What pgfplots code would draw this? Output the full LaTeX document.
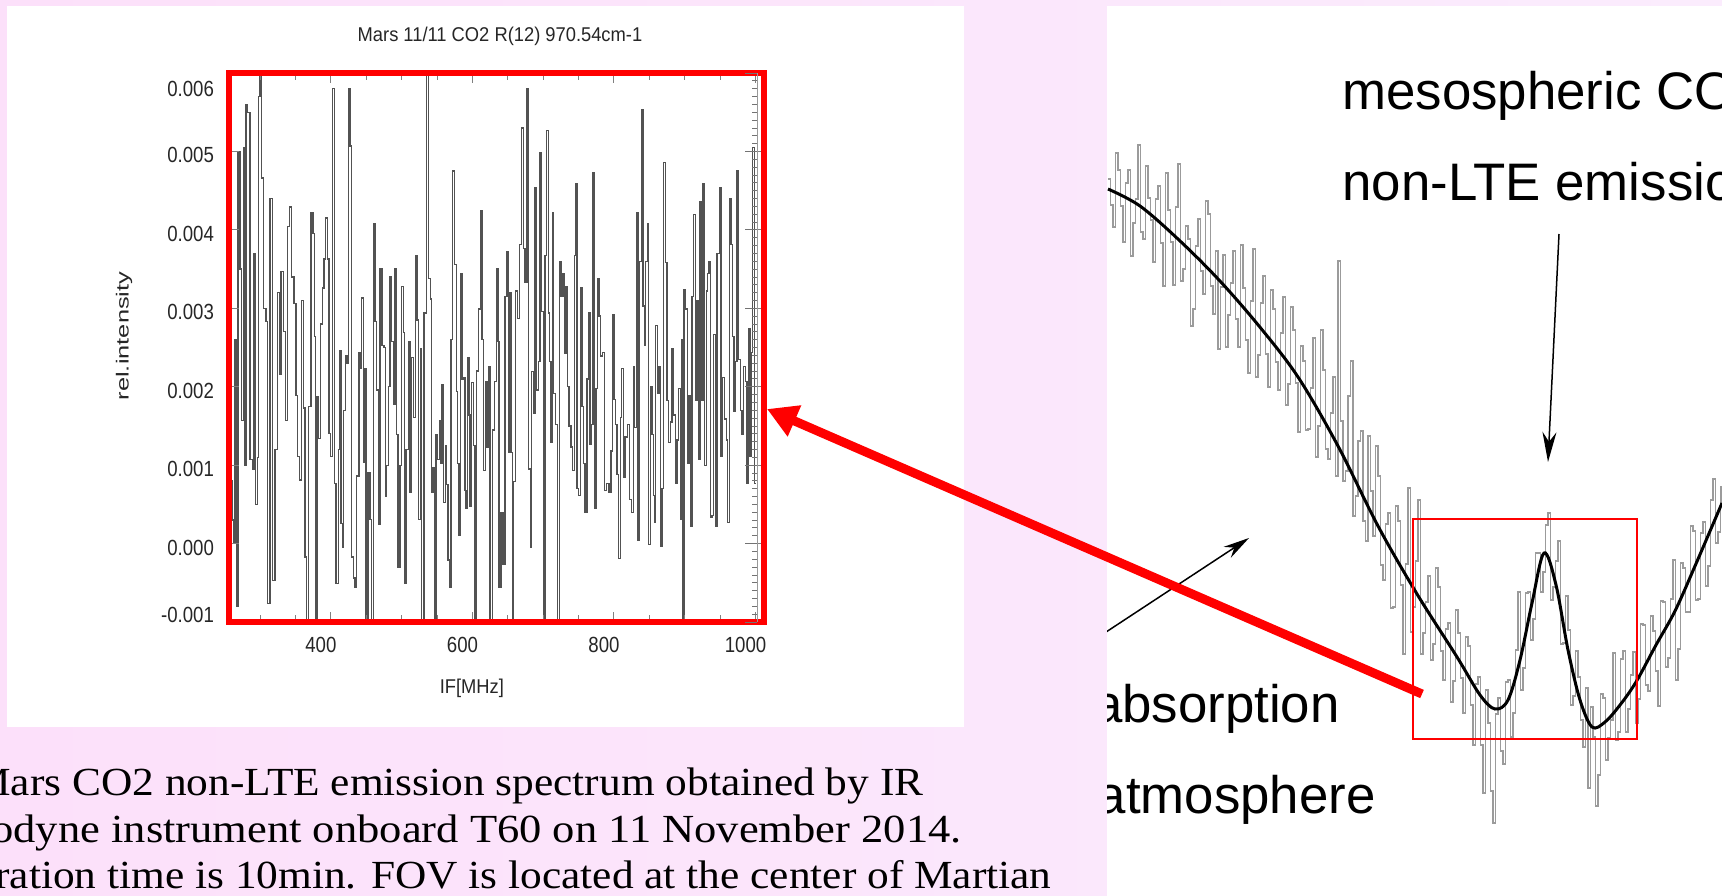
\documentclass[border=0pt]{standalone}
\usepackage{graphicx}
\usepackage{pgfplots}
\usepackage{pgfplotstable}
\pgfplotsset{compat=1.18}
\usepackage{fontspec}
\setmainfont{Liberation Sans}
\newfontfamily\capfont[FakeStretch=1.088]{Liberation Serif}
\usetikzlibrary{arrows.meta}
\definecolor{bgA}{RGB}{252,224,250}
\definecolor{bgB}{RGB}{251,236,253}
\definecolor{specgray}{RGB}{82,82,82}
\definecolor{litegray}{RGB}{155,155,155}
\newcommand{\sqz}[1]{\scalebox{0.85}[1]{#1}}

\pgfplotstableread{
x y
256 0.8
260.6 0.3
262.4 0.0
264.3 2.6
266.7 -0.8
268.6 5.0
271.4 3.5
273.8 1.57
276.1 5.05
278.5 1.0
279.9 5.6
282.2 5.5
285.5 1.07
288.8 0.95
291.2 3.7
293.5 0.5
295.9 1.1
297.3 5.7
299.7 6.2
302.0 4.66
304.8 3.0
308.1 2.83
310.5 -0.76
313.8 4.4
317.1 -0.47
320.9 1.2
324.6 3.2
327.0 2.16
329.3 3.47
332.6 2.7
335.5 1.57
338.8 4.04
341.1 4.29
344.4 3.4
347.7 3.06
350.5 1.89
352.9 1.11
355.3 0.81
358.6 3.1
361.4 1.73
363.3 -0.17
365.1 -1.1
368.0 1.75
371.7 4.22
374.6 3.95
376.5 2.64
378.3 -1.1
380.2 1.87
382.1 1.34
385.4 2.8
387.8 3.26
390.1 3.63
392.5 4.15
394.8 3.63
397.2 1.4
399.5 1.11
401.9 5.8
404.7 0.77
407.1 -0.51
410.4 1.2
412.3 2.46
414.1 0.26
416.0 -0.05
417.9 1.7
420.3 2.39
422.6 2.3
424.5 5.8
426.9 5.07
429.2 -0.17
432.0 -0.44
433.9 -0.56
436.3 0.86
439.6 2.44
441.5 2.23
443.4 3.13
445.7 1.04
447.6 2.23
449.5 -1.1
452.3 0.9
455.1 0.31
457.5 -1.1
459.8 4.08
462.2 2.83
464.6 1.96
466.9 0.24
469.3 3.51
472.1 2.53
474.9 2.5
476.8 0.6
478.7 1.0
481.5 2.0
483.4 3.4
485.8 2.58
488.1 1.77
490.5 3.51
492.8 1.39
494.7 -0.3
497.5 1.0
499.9 3.28
502.2 2.69
503.7 -0.51
506.0 1.2
509.3 2.58
511.7 0.65
514.0 2.37
516.4 1.61
519.2 3.67
521.6 2.85
523.9 0.31
526.3 2.48
528.2 -1.1
531.5 2.94
535.2 6.2
538.0 3.38
540.4 3.12
542.3 0.65
544.2 0.97
546.1 -1.1
548.4 1.39
550.8 1.07
553.1 1.57
555.0 1.02
556.9 2.03
559.2 0.52
561.6 1.25
563.5 0.75
565.4 -0.21
567.3 -0.56
569.6 2.6
572.0 4.75
574.8 3.56
577.1 1.94
579.0 1.02
580.9 0.1
582.8 3.44
585.2 2.1
587.5 2.12
589.4 0.68
590.8 0.45
593.2 2.37
595.0 1.64
596.5 0.47
598.8 2.05
601.2 1.25
603.5 -1.1
605.9 2.2
608.2 2.99
611.1 4.25
613.4 2.6
615.3 0.93
618.1 2.07
620.5 1.23
622.8 2.26
624.7 -1.1
628.5 1.45
630.9 2.07
633.7 3.51
636.0 2.58
637.5 -0.56
640.3 0.4
643.1 -0.26
645.9 3.15
648.8 3.72
650.6 1.16
652.5 3.2
654.4 1.16
656.3 -1.1
658.2 0.79
661.0 3.22
663.8 2.87
666.7 3.81
669.5 5.3
671.8 3.76
674.2 3.33
677.0 5.8
679.4 0.95
681.7 -0.05
683.6 2.19
686.0 1.66
688.3 4.54
690.7 1.96
693.0 2.32
695.4 4.98
697.8 2.96
700.1 -1.1
702.5 3.67
704.8 5.27
707.2 2.94
709.1 2.32
710.9 1.29
712.8 4.22
714.7 1.91
717.5 1.52
719.9 -1.1
722.7 3.6
725.1 3.15
727.9 3.44
729.8 2.42
732.1 3.28
734.5 2.0
736.4 1.5
739.2 1.23
741.6 0.93
743.9 3.67
745.8 4.59
747.7 0.7
749.6 0.61
752.4 3.26
754.8 1.75
757.1 1.02
759.0 0.4
761.8 2.1
764.2 2.94
766.1 1.27
768.0 1.52
770.3 4.73
772.7 0.45
774.5 1.98
776.4 3.38
778.8 2.9
781.1 2.39
784.0 2.44
786.3 0.68
789.6 0.77
792.9 0.65
795.7 1.18
797.6 2.92
800.0 1.84
802.3 1.52
804.2 0.88
806.6 -0.19
808.9 1.61
810.8 2.23
813.2 0.84
815.5 1.36
819.3 1.52
821.7 0.56
825.0 0.4
827.8 2.26
829.2 1.48
831.6 4.22
833.9 0.04
836.3 3.6
838.6 5.53
841.0 3.03
842.9 2.53
844.7 3.6
847.1 4.08
849.0 -0.01
851.8 2.0
853.7 1.39
855.6 0.61
857.0 0.27
858.9 2.78
861.2 1.91
863.6 2.26
865.9 -0.03
867.8 0.7
870.2 4.86
872.5 3.58
874.9 1.82
877.2 1.29
879.6 1.55
882.0 2.48
884.3 1.64
886.7 0.77
889.0 1.32
891.4 1.98
893.7 0.31
895.6 2.6
897.0 -1.1
898.9 3.24
901.3 2.99
903.6 1.02
906.0 1.89
908.3 0.22
910.2 3.15
912.6 4.2
914.9 1.82
917.3 3.1
919.2 1.07
921.5 4.36
923.9 1.82
925.8 4.59
928.1 1.0
930.5 3.22
932.4 3.44
934.3 3.6
936.1 0.33
938.5 0.36
940.8 2.67
943.2 0.22
945.6 3.7
948.9 4.54
951.2 1.11
953.6 2.12
956.4 1.59
958.7 1.32
960.6 0.27
963.0 4.4
965.3 3.81
967.2 2.64
969.6 1.68
971.5 2.32
973.8 4.75
976.2 2.35
978.5 1.7
980.9 1.39
983.2 2.26
985.6 2.07
988.0 0.77
989.8 2.74
992.2 1.11
994.1 2.44
996.0 5.05
998.5 0.77
1000 0.77
}\leftdata

\pgfplotstableread{
x y
1108 179
1110.5 205
1113 227
1115.5 153
1118 170
1120.5 206
1123 242
1125.5 183
1128 170
1130.5 256
1133 223
1135.5 199
1138 145
1140.5 232
1143 239
1145.5 166
1148 198
1150.5 220
1153 262
1155.5 199
1158 186
1160.5 243
1163 286
1165.5 173
1168 210
1170.5 242
1173 285
1175.5 207
1178 164
1180.5 281
1183 269
1185.5 226
1188 239
1190.5 326
1193 309
1195.5 246
1198 219
1200.5 271
1203 294
1205.5 201
1208 214
1210.5 286
1213 314
1215.5 251
1218 349
1220.5 287
1223 255
1225.5 347
1228 315
1230.5 283
1233 251
1235.5 319
1238 347
1240.5 245
1243 288
1245.5 340
1248 373
1250.5 301
1253 249
1255.5 377
1258 355
1260.5 303
1263 276
1265.5 354
1268 387
1270.5 290
1273 309
1275.5 362
1278 390
1280.5 333
1283 297
1285.5 405
1288 384
1290.5 307
1293 330
1295.5 383
1298 432
1300.5 346
1303 361
1305.5 430
1308 429
1310.5 388
1313 338
1315.5 457
1318 426
1320.5 330
1323 370
1325.5 449
1328 459
1330.5 413
1333 377
1335.5 476
1338 261
1340.5 421
1343 481
1345.5 471
1348 396
1350.5 361
1353 516
1355.5 496
1358 441
1360.5 431
1363 521
1365.5 541
1368 436
1370.5 491
1373 536
1375.5 446
1378 476
1380.5 565
1383 580
1385.5 524
1388 513
1390.5 608
1393 607
1395.5 506
1398 521
1400.5 585
1403 654
1405.5 564
1408 488
1410.5 632
1413 607
1415.5 561
1418 500
1420.5 654
1423 633
1425.5 602
1428 576
1430.5 660
1433 644
1435.5 568
1438 587
1440.5 651
1443 680
1445.5 629
1448 623
1450.5 702
1453 681
1455.5 610
1458 633
1460.5 678
1463 713
1465.5 637
1468 646
1470.5 705
1473 745
1475.5 684
1478 677
1480.5 745
1483 793
1485.5 690
1488 723
1490.5 791
1493 823
1495.5 714
1498 698
1500.5 751
1503 764
1505.5 682
1508 680
1510.5 737
1513 713
1515.5 650
1518 592
1520.5 690
1523 668
1525.5 593
1528 592
1530.5 640
1533 619
1535.5 553
1538 553
1540.5 592
1543 572
1545.5 525
1548 513
1550.5 600
1553 587
1555.5 561
1558 541
1560.5 644
1563 643
1565.5 596
1568 630
1570.5 705
1573 696
1575.5 651
1578 677
1580.5 720
1583 747
1585.5 688
1588 788
1590.5 707
1593 737
1595.5 806
1598 775
1600.5 694
1603 698
1605.5 760
1608 738
1610.5 720
1613 653
1615.5 740
1618 732
1620.5 659
1623 651
1625.5 732
1628 709
1630.5 675
1633 652
1635.5 723
1638 699
1640.5 624
1643 625
1645.5 685
1648 691
1650.5 616
1653 631
1655.5 671
1658 706
1660.5 601
1663 602
1665.5 667
1668 658
1670.5 599
1673 560
1675.5 680
1678 649
1680.5 563
1683 568
1685.5 612
1688 612
1690.5 526
1693 531
1695.5 600
1698 599
1700.5 533
1703 522
1705.5 586
1708 566
1710.5 500
1713 479
1715.5 543
1718 532
1720.5 487
1722 503
}\rightdata

\begin{document}
\begin{tikzpicture}
\useasboundingbox (0,0) rectangle (861bp,-448bp);
\clip (0,0) rectangle (861bp,-448bp);
\shade[left color=bgA, right color=bgB] (0,0) rectangle (861bp,-448bp);
\fill[white] (3.5bp,-3bp) rectangle (482bp,-363.5bp);
\fill[white] (553.5bp,-3bp) rectangle (861bp,-448bp);

% caption
\node[anchor=base west, inner sep=0pt, font=\capfont\fontsize{20}{23}\selectfont] at (-14bp,-397.5bp) {Mars CO2 non-LTE emission spectrum obtained by IR};
\node[anchor=base west, inner sep=0pt, font=\capfont\fontsize{20}{23}\selectfont] at (-49bp,-421bp) {\scalebox{1.027}[1]{heterodyne instrument onboard T60 on 11 November 2014.}};
\node[anchor=base west, inner sep=0pt, font=\capfont\fontsize{20}{23}\selectfont] at (-47bp,-444bp) {Integration time is 10min. FOV is located at the center of Martian};

% left spectrum
\begin{axis}[
  at={(114.5bp,-311bp)}, anchor=south west,
  scale only axis, width=267.5bp, height=274.5bp,
  xmin=256, xmax=1012, ymin=-1, ymax=6,
  axis on top,
  axis line style={draw=red, line width=3bp, line cap=rect},
  xtick={400,600,800,1000},
  xticklabels={\sqz{400},\sqz{600},\sqz{800},\sqz{1000}},
  minor xtick={300,350,450,500,550,650,700,750,850,900,950},
  ytick={0,1,2,3,4,5},
  yticklabels={\sqz{0.000},\sqz{0.001},\sqz{0.002},\sqz{0.003},\sqz{0.004},\sqz{0.005}},
  extra y ticks={-0.86,5.85},
  extra y tick labels={\sqz{-0.001},\sqz{0.006}},
  extra y tick style={tick style={draw=none}},
  tick align=inside,
  major tick length=5bp, minor tick length=3.5bp,
  tick style={draw=black!50, line width=0.5bp},
  ticklabel style={font=\fontsize{11}{12}\selectfont, text=black!85},
  yticklabel style={xshift=-4bp, yshift=-2bp},
  xticklabel style={xshift=-5bp, yshift=-4bp},
  title={\scalebox{0.92}[1]{Mars 11/11 CO2 R(12) 970.54cm-1}},
  title style={at={(axis description cs:0.5065,1.0455)}, anchor=center, font=\fontsize{10}{12}\selectfont, text=black!85},
  xlabel={\scalebox{0.92}[1]{IF[MHz]}},
  xlabel style={at={(axis description cs:0.454,-0.12)}, anchor=center, font=\fontsize{10}{12}\selectfont, text=black!85},
  ylabel={\scalebox{1.45}[1]{rel.intensity}},
  ylabel style={at={(axis description cs:-0.196,0.521)}, anchor=center, rotate=0, font=\fontsize{8.8}{10}\selectfont, text=black!85},
]
\addplot[const plot, draw=specgray, line width=0.65bp] table {\leftdata};
\end{axis}

% inner gnuplot border with minor ticks on the right
\begin{axis}[
  at={(114.5bp,-311bp)}, anchor=south west,
  scale only axis, width=264bp, height=274.5bp,
  xmin=0, xmax=1, ymin=-1, ymax=6,
  axis x line=none, axis y line*=right,
  axis line style={draw=black!40, line width=0.4bp},
  ytick={-1,0,1,2,3,4,5,6}, yticklabels={},
  minor y tick num=9,
  tick align=inside,
  major tick length=6bp, minor tick length=2.5bp,
  tick style={draw=black!55, line width=0.4bp},
]
\end{axis}

% right spectrum picture
\begin{axis}[
  at={(553.5bp,-3bp)}, anchor=north west,
  scale only axis, width=307.5bp, height=445bp,
  xmin=1107, xmax=1722, ymin=6, ymax=896, y dir=reverse,
  hide axis, clip=true,
]
\addplot[const plot, draw=litegray, line width=0.65bp] table {\rightdata};
\addplot[smooth, tension=0.55, draw=black, line width=1.5bp] coordinates {
(1108,189) (1140,206) (1179,240) (1219,280) (1259,326) (1298,377) (1338,446)
(1378,526) (1417,594) (1457,657) (1480,695) (1495,709) (1508,700) (1520,660)
(1532,603) (1544,553) (1556,585) (1568,650) (1580,700) (1592,727) (1605,722)
(1620,705) (1636,682) (1656,645) (1675,611) (1695,566) (1722,503)};
\draw[red, line width=1.25bp] (axis cs:1413,519) rectangle (axis cs:1637,739);
\draw[black, line width=0.75bp, -{Stealth[length=15bp,width=7bp]}] (axis cs:1559,234) -- (axis cs:1548,462);
\draw[black, line width=0.75bp, -{Stealth[length=13bp,width=6.5bp]}] (axis cs:1100,636) -- (axis cs:1249,538);
\node[anchor=base west, inner sep=0pt, font=\fontsize{26.5}{30}\selectfont] at (axis cs:1342,109) {mesospheric CO2};
\node[anchor=base west, inner sep=0pt, font=\fontsize{26.5}{30}\selectfont] at (axis cs:1342,200) {non-LTE emission};
\node[anchor=base east, inner sep=0pt, font=\fontsize{26.5}{30}\selectfont] at (axis cs:1340,723) {absorption};
\node[anchor=base east, inner sep=0pt, font=\fontsize{26.5}{30}\selectfont] at (axis cs:1376,814) {atmosphere};
\end{axis}

% big red arrow
\draw[red, line width=4.5bp, -{Triangle[length=15bp,width=16bp]}] (711bp,-347bp) -- (383.5bp,-204.5bp);
\end{tikzpicture}
\end{document}
